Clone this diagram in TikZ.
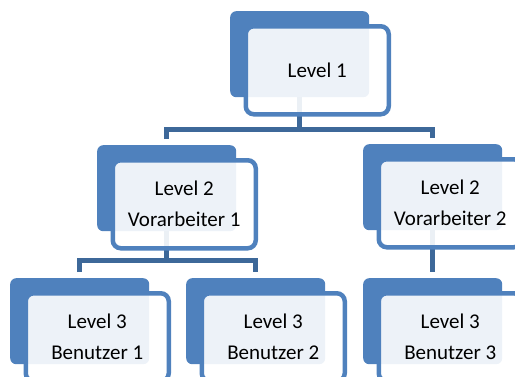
\documentclass[tikz,border=0pt]{standalone}
\usepackage{fontspec}
\setmainfont{Carlito}
\definecolor{boxblue}{HTML}{4F81BD}
\definecolor{connblue}{HTML}{3D6899}
\tikzset{
  backbox/.style={fill=boxblue, rounded corners=6pt, minimum width=139pt, minimum height=86pt, inner sep=0pt, anchor=north west},
  frontbox/.style={draw=boxblue, line width=4.5pt, fill=white, fill opacity=0.9, text opacity=1, rounded corners=8pt, minimum width=143pt, minimum height=88pt, inner sep=0pt, anchor=north west, align=center, font=\fontsize{21}{31}\selectfont},
  conn/.style={draw=connblue, line width=5pt, line join=miter}
}
\begin{document}
\begin{tikzpicture}[x=1pt,y=-1pt]
\useasboundingbox (0,0) rectangle (515,376);
\clip (0,0) rectangle (515,376);
% back boxes
\node[backbox] (b1) at (230,11) {};
\node[backbox] (b2a) at (97,145) {};
\node[backbox] (b2b) at (363,144) {};
\node[backbox] (b3a) at (10,278) {};
\node[backbox] (b3b) at (186,278) {};
\node[backbox] (b3c) at (363,278) {};
% connectors
\coordinate (bar1) at (0,129.5);
\coordinate (bar2) at (0,260);
\draw[conn] (b1.south) -- (b1.south |- bar1);
\draw[conn] ([yshift=6pt]b2a.north) -- (b2a.north |- bar1) -- (b2b.north |- bar1) -- ([yshift=6pt]b2b.north);
\draw[conn] (b2a.south) -- (b2a.south |- bar2);
\draw[conn] ([yshift=6pt]b3a.north) -- (b3a.north |- bar2) -- (b3b.north |- bar2) -- ([yshift=6pt]b3b.north);
\draw[conn] (b2b.south) -- ([yshift=6pt]b3c.north);
% front boxes
\node[frontbox] (f1) at (243.5,24) {Level 1};
\node[frontbox] (f2a) at (110.5,158) {Level 2\\Vorarbeiter 1};
\node[frontbox] (f2b) at (376.5,157) {Level 2\\Vorarbeiter 2};
\node[frontbox] (f3a) at (23.5,291) {Level 3\\Benutzer 1};
\node[frontbox] (f3b) at (199.5,291) {Level 3\\Benutzer 2};
\node[frontbox] (f3c) at (376.5,291) {Level 3\\Benutzer 3};
\end{tikzpicture}
\end{document}
